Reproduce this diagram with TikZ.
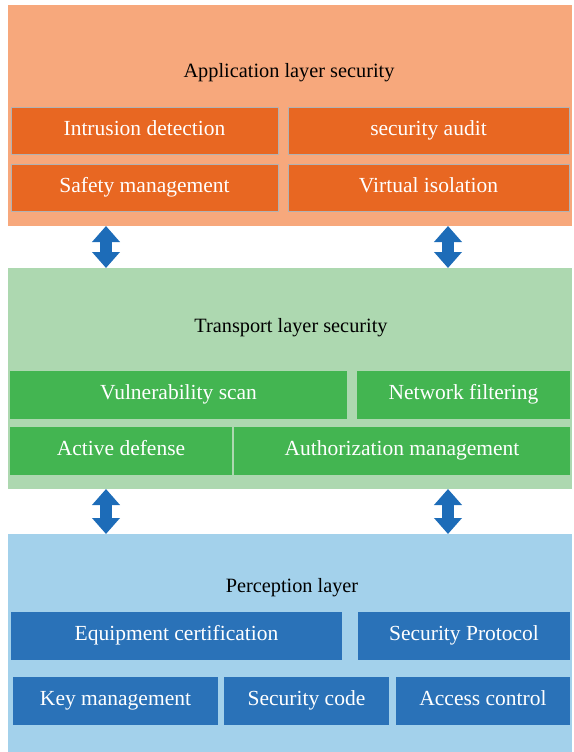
\documentclass[tikz,border=0pt]{standalone}
\usepackage{fontspec}
\setmainfont{Liberation Serif}
\usetikzlibrary{positioning, arrows.meta}

\definecolor{appbg}{HTML}{F7A87C}
\definecolor{appbox}{HTML}{E86722}
\definecolor{trbg}{HTML}{ADD8B0}
\definecolor{trbox}{HTML}{43B551}
\definecolor{perbg}{HTML}{A3D1EB}
\definecolor{perbox}{HTML}{2A72B8}
\definecolor{arrowblue}{HTML}{1D6CB8}

\tikzset{
  layer/.style={rectangle, anchor=north west, inner sep=0pt, outer sep=0pt, minimum width=564pt},
  title/.style={font=\fontsize{20.3}{24}\selectfont, text=black},
  item/.style={rectangle, anchor=north west, inner sep=0pt, outer sep=0pt,
    minimum height=48pt, text height=14pt, text depth=5pt,
    text=white, font=\fontsize{21.5}{24}\selectfont},
  appitem/.style={item, fill=appbox, draw=black!30, line width=0.8pt, minimum height=47pt},
  tritem/.style={item, fill=trbox},
  peritem/.style={item, fill=perbox},
  link/.style={arrowblue, line width=12pt,
    {Triangle[width=27pt, length=16pt]}-{Triangle[width=27pt, length=16pt]}}
}

\begin{document}
\begin{tikzpicture}[x=1pt, y=-1pt]
\useasboundingbox (0,0) rectangle (573,752);

% layer panels
\node[layer, fill=appbg, minimum height=221pt] (app) at (8,5) {};
\node[layer, fill=trbg, minimum height=221pt] (trans) at (8,268) {};
\node[layer, fill=perbg, minimum height=218pt] (perc) at (8,534) {};

\node[title] (apptitle) at (289,73) {Application layer security};
\node[title] (transtitle) at (291,328) {Transport layer security};
\node[title] (perctitle) at (292,588) {Perception layer};

% application layer
\node[appitem, minimum width=267pt] (intrusion) at (11,107) {Intrusion detection};
\node[appitem, minimum width=281pt] (audit) at (288,107) {security audit};
\node[appitem, minimum width=267pt] (safety) at (11,164) {Safety management};
\node[appitem, minimum width=281pt] (isolation) at (288,164) {Virtual isolation};

% transport layer
\node[tritem, minimum width=337pt] (vuln) at (10,371) {Vulnerability scan};
\node[tritem, minimum width=213pt] (filter) at (357,371) {Network filtering};
\node[tritem, minimum width=222pt] (defense) at (10,427) {Active defense};
\node[tritem, minimum width=336pt] (authz) at (234,427) {Authorization management};

% perception layer
\node[peritem, minimum width=331pt] (equip) at (11,612) {Equipment certification};
\node[peritem, minimum width=212pt] (protocol) at (358,612) {Security Protocol};
\node[peritem, minimum width=205pt] (keymgmt) at (13,677) {Key management};
\node[peritem, minimum width=165pt] (seccode) at (224,677) {Security code};
\node[peritem, minimum width=174pt] (access) at (396,677) {Access control};

% links between layers
\coordinate (xl) at (106,0);
\coordinate (xr) at (448,0);
\draw[link] (app.south -| xl) -- (trans.north -| xl);
\draw[link] (app.south -| xr) -- (trans.north -| xr);
\draw[link] (trans.south -| xl) -- (perc.north -| xl);
\draw[link] (trans.south -| xr) -- (perc.north -| xr);
\end{tikzpicture}
\end{document}
